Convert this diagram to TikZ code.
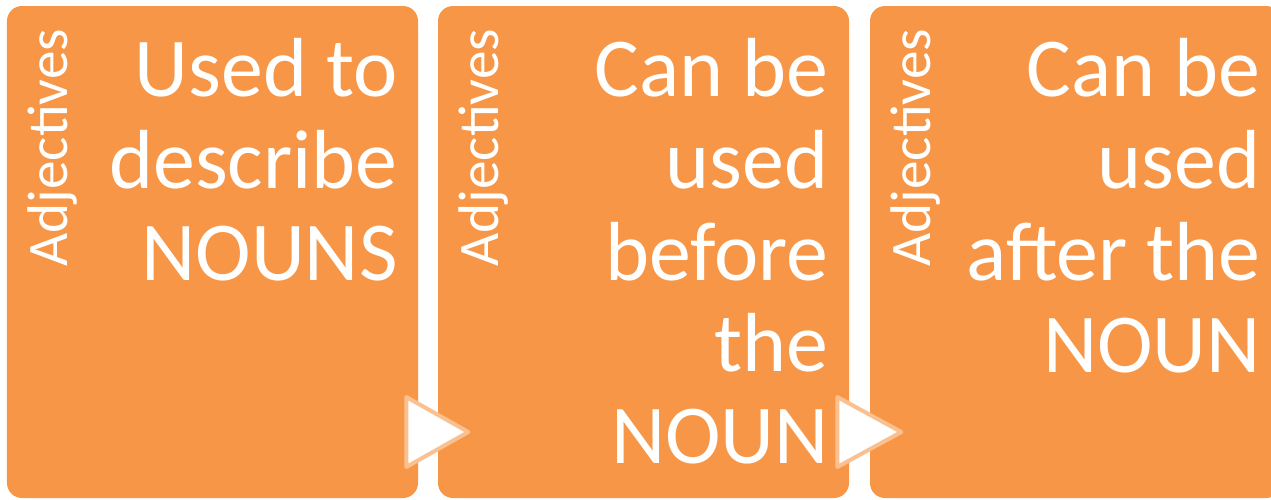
\documentclass[tikz,border=0pt]{standalone}
\usepackage{fontspec}
\setmainfont{Carlito}
\usepackage{tikz}
\usetikzlibrary{positioning, calc}
\definecolor{boxorange}{RGB}{247, 150, 70}
\definecolor{arrowrim}{RGB}{250, 192, 144}

\tikzset{
  panel/.style={rectangle, fill=boxorange, rounded corners=0.3cm,
                minimum width=8.22cm, minimum height=9.84cm},
  bodytext/.style={text=white, font=\fontsize{47.7}{52.2}\selectfont,
                   align=right, inner sep=0pt, anchor=base east},
  sidetitle/.style={text=white, font=\fontsize{32.6}{36}\selectfont,
                    inner sep=0pt, rotate=90, anchor=base west},
  playarrow/.style={fill=white, draw=arrowrim, line width=0.08cm,
                    line join=round}
}

\begin{document}
\begin{tikzpicture}[node distance=8.62cm]

\useasboundingbox (0,0) rectangle (25.42,-9.98);
\clip (0,0) rectangle (25.42,-9.98);

% Orange panels
\node[panel] (box1) at (4.25,-5.04) {};
\node[panel, right of=box1] (box2) {};
\node[panel, right of=box2, xshift=0.02cm] (box3) {};

% Rotated titles
\node[sidetitle] (title1) at ($(box1.west)+(1.22,-0.3)$) {Adjectives};
\node[sidetitle] (title2) at ($(box2.west)+(1.22,-0.3)$) {Adjectives};
\node[sidetitle] (title3) at ($(box3.west)+(1.22,-0.3)$) {Adjectives};

% Panel texts (anchored on the last line)
\node[bodytext] (text1) at ($(box1.north east)+(-0.41,-5.49)$)
      {Used to\\describe\\NOUNS};
\node[bodytext] (text2) at ($(box2.north east)+(-0.41,-9.16)$)
      {Can be\\used\\before\\the\\NOUN};
\node[bodytext] (text3) at ($(box3.north east)+(-0.41,-7.33)$)
      {Can be\\used\\after the\\NOUN};

% Arrows between panels
\draw[playarrow] ($(box1.east)+(-0.24,-2.9)$) -- ($(box1.east)+(1.0,-3.6)$)
      -- ($(box1.east)+(-0.24,-4.3)$) -- cycle;
\draw[playarrow] ($(box2.east)+(-0.24,-2.9)$) -- ($(box2.east)+(1.04,-3.6)$)
      -- ($(box2.east)+(-0.24,-4.3)$) -- cycle;

\end{tikzpicture}
\end{document}
